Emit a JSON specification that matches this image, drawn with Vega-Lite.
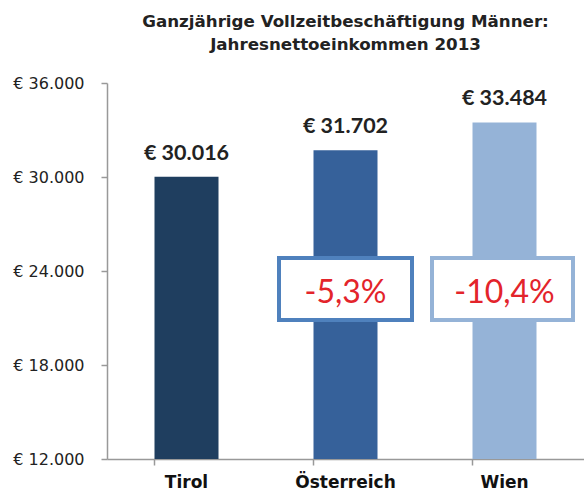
{
  "$schema": "https://vega.github.io/schema/vega-lite/v6.json",
  "width": 477,
  "height": 376,
  "autosize": {"type": "none"},
  "padding": {"left": 107, "top": 83, "right": 0, "bottom": 35},
  "background": "white",
  "config": {
    "view": {"stroke": null},
    "locale": {"number": {"decimal": ",", "thousands": ".", "grouping": [3], "currency": ["€ ", ""], "minus": "-"}}
  },
  "title": {
    "text": ["Ganzjährige Vollzeitbeschäftigung Männer:", "Jahresnettoeinkommen 2013"],
    "font": "DejaVu Sans",
    "fontSize": 16.7,
    "fontWeight": "bold",
    "color": "#222222",
    "lineHeight": 23,
    "offset": 21,
    "anchor": "middle"
  },
  "data": {
    "values": [
      {"region": "Tirol", "income": 30016, "diff": null},
      {"region": "Österreich", "income": 31702, "diff": -0.053},
      {"region": "Wien", "income": 33484, "diff": -0.104}
    ]
  },
  "encoding": {
    "x": {
      "field": "region",
      "type": "nominal",
      "sort": null,
      "scale": {"paddingInner": 0.6, "paddingOuter": 0.3},
      "axis": {
        "title": null,
        "labelAngle": 0,
        "labelFont": "DejaVu Sans",
        "labelFontSize": 17,
        "labelFontWeight": "bold",
        "labelColor": "#111111",
        "labelPadding": 9,
        "bandPosition": 0,
        "tickSize": 6,
        "tickColor": "#999999",
        "domainColor": "#999999",
        "domainWidth": 1.5,
        "tickWidth": 1.5
      }
    }
  },
  "layer": [
    {
      "mark": {"type": "bar", "width": 64},
      "encoding": {
        "y": {
          "field": "income",
          "type": "quantitative",
          "scale": {"domain": [12000, 36000], "zero": false, "nice": false},
          "axis": {
            "title": null,
            "values": [12000, 18000, 24000, 30000, 36000],
            "format": "$,.0f",
            "grid": false,
            "labelFont": "DejaVu Sans",
            "labelFontSize": 16,
            "labelColor": "#222222",
            "labelPadding": 17,
            "tickSize": 6,
            "tickColor": "#999999",
            "domainColor": "#999999",
            "domainWidth": 1.5,
            "tickWidth": 1.5
          }
        },
        "y2": {"datum": 12000},
        "color": {
          "field": "region",
          "type": "nominal",
          "scale": {"domain": ["Tirol", "Österreich", "Wien"], "range": ["#1F3E5F", "#36619A", "#95B3D7"]},
          "legend": null
        }
      }
    },
    {
      "mark": {"type": "text", "font": "Lato", "fontSize": 21.5, "fontWeight": "bold", "color": "#222222", "baseline": "alphabetic", "dy": -17},
      "encoding": {
        "y": {"field": "income", "type": "quantitative"},
        "text": {"field": "income", "type": "quantitative", "format": "$,.0f"}
      }
    },
    {
      "transform": [{"filter": "datum.region === 'Österreich'"}],
      "mark": {"type": "bar", "width": 133, "fill": "white", "stroke": "#4F81BD", "strokeWidth": 4},
      "encoding": {
        "y": {"datum": 24830},
        "y2": {"datum": 20870}
      }
    },
    {
      "transform": [{"filter": "datum.region === 'Wien'"}],
      "mark": {"type": "bar", "width": 141, "xOffset": -2, "fill": "white", "stroke": "#95B3D7", "strokeWidth": 4},
      "encoding": {
        "y": {"datum": 24830},
        "y2": {"datum": 20870}
      }
    },
    {
      "transform": [{"filter": "datum.diff != null"}],
      "mark": {"type": "text", "font": "Lato", "fontSize": 32, "color": "#E3242B", "baseline": "alphabetic"},
      "encoding": {
        "y": {"datum": 21960},
        "text": {"field": "diff", "type": "quantitative", "format": ".1%"}
      }
    }
  ]
}
